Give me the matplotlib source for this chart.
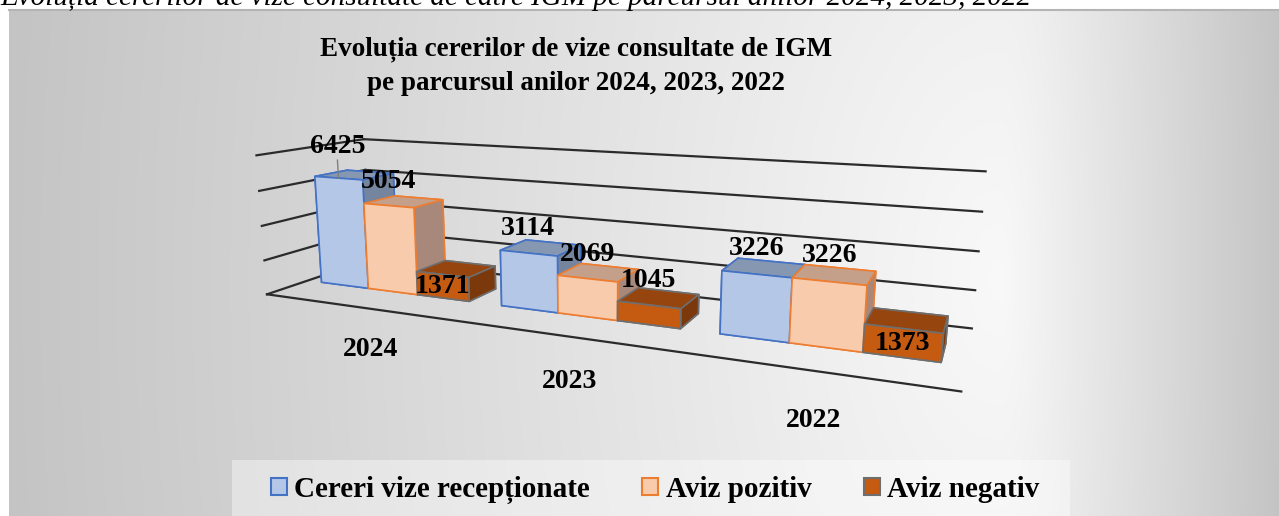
import numpy as np
import matplotlib.pyplot as plt
from matplotlib.patches import Patch, Rectangle

years = ["2024", "2023", "2022"]
series = ["Cereri vize recepționate", "Aviz pozitiv", "Aviz negativ"]
cereri = [6425, 3114, 3226]
pozitiv = [5054, 2069, 3226]
negativ = [1371, 1045, 1373]
grid_values = [0, 2000, 4000, 6000, 8000]

front_colors = ["#B4C7E7", "#F8CBAD", "#C55A11"]
top_colors = ["#8697B2", "#C4A08A", "#96450E"]
side_colors = ["#76859E", "#A8887A", "#7A380B"]
edge_colors = ["#4472C4", "#ED7D31", "#6E6E6E"]

plt.rcParams["font.family"] = ["Liberation Serif", "DejaVu Serif"]

W, H = 1279, 516
fig = plt.figure(figsize=(W / 100, H / 100), dpi=100)

# gray gradient behind the chart
yy, xx = np.mgrid[0:H, 0:W]
cx, cy = 1000, 280
gx = np.where(xx < cx, (xx - cx) / (cx - 9), (xx - cx) / (W - cx))
gy = (yy - cy) / 1800
t = np.clip(np.sqrt(gx ** 2 + gy ** 2), 0, 1)
g = 0.975 - 0.205 * t
bg = np.dstack([g, g, g])
bg[(xx < 9) | (yy < 9)] = 1.0
bax = fig.add_axes([0, 0, 1, 1])
bax.imshow(bg, extent=(0, W, H, 0), aspect="auto", interpolation="bilinear")
bax.plot([9, W], [9.5, 9.5], color="#b4b4b4", lw=1.5)
bax.add_patch(Rectangle((232, 460), 838, 60, facecolor="white", alpha=0.4,
                        edgecolor="none"))
bax.set_xlim(0, W)
bax.set_ylim(H, 0)
bax.axis("off")

fig.text(0.0, 1 - 5 / H,
         "Evoluția cererilor de vize consultate de către IGM pe parcursul anilor 2024, 2023, 2022",
         style="italic", fontsize=21, va="baseline", ha="left")

fig.text(576 / W, 1 - 66 / H,
         "Evoluția cererilor de vize consultate de IGM\npe parcursul anilor 2024, 2023, 2022",
         ha="center", va="center", fontsize=19.5, fontweight="bold", linespacing=1.45)

# 3d bars: a square axes as wide as the figure, centred on the plot area
side = W / H
cxf, cyf = 578 / W, 1 - 256 / H
ax = fig.add_axes([cxf - 0.5, cyf - side / 2, 1.0, side], projection="3d",
                  computed_zorder=False)
ax.set_facecolor((0, 0, 0, 0))
ax.set_proj_type("persp", focal_length=0.135)
ax.view_init(elev=12, azim=-66)

bar_w, gap = 1.0, 0.6
bar_d = 0.85
slot = 3 * bar_w + gap
depth = 2.9
y0 = 1.15
yf = 0.15
xmax = 3 * slot
values = [cereri, pozitiv, negativ]

zs_top, xpos = [], []
fcs, ecs = [], []
for i in range(len(years)):
    for s in range(len(series)):
        xpos.append(i * slot + gap / 2 + s * bar_w)
        zs_top.append(values[s][i])
        # face order: -z, +z, -y, +y, -x, +x
        fcs += [side_colors[s], top_colors[s], front_colors[s],
                side_colors[s], side_colors[s], side_colors[s]]
        ecs += [edge_colors[s]] * 6

n = len(xpos)
ax.bar3d(xpos, [y0] * n, [0] * n, [bar_w] * n, [bar_d] * n, zs_top,
         color=fcs, edgecolor=ecs, linewidth=1.2, shade=False, zorder=2)

for gv in grid_values:
    ax.plot([0, xmax], [depth, depth], [gv, gv], color="#2b2b2b", lw=1.6, zorder=1)
    ax.plot([0, 0], [yf, depth], [gv, gv], color="#2b2b2b", lw=1.6, zorder=1)
ax.plot([0, xmax], [yf, yf], [0, 0], color="#2b2b2b", lw=1.6, zorder=1)

# data labels
inside = {(0, 2), (2, 2)}
lift = {(0, 0): 450}
for i in range(len(years)):
    for s in range(len(series)):
        v = values[s][i]
        xc = i * slot + gap / 2 + s * bar_w + bar_w / 2
        if (i, s) in inside:
            ax.text(xc, y0, v / 2, str(v), ha="center", va="center",
                    fontsize=20, fontweight="bold", zorder=5)
        else:
            dz = lift.get((i, s), 0)
            ax.text(xc, y0, v + 650 + dz, str(v), ha="center",
                    va="bottom", fontsize=20, fontweight="bold", zorder=5)
            if dz:
                ax.plot([xc, xc], [y0, y0], [v, v + dz + 600],
                        color="#7f7f7f", lw=1, zorder=4)

for i, yr in enumerate(years):
    ax.text(i * slot + slot / 2, 0.5, -2850, yr, ha="center", va="center",
            fontsize=20, fontweight="bold", zorder=5)

ax.set_xlim(0, xmax)
ax.set_ylim(0, depth)
ax.set_zlim(0, 8000)
ax.set_xticks([])
ax.set_yticks([])
ax.set_zticks([])
ax.set_box_aspect((xmax, depth, 2.32), zoom=1.8 * 402 / W)
ax.set_axis_off()
for a in (ax, bax):
    for ttl in (a.title, a._left_title, a._right_title):
        ttl.set_visible(False)

handles = [Patch(facecolor=front_colors[s], edgecolor=edge_colors[s], lw=1.5)
           for s in range(len(series))]
leg = fig.legend(handles, series, loc="center", bbox_to_anchor=(655 / W, 1 - 490 / H),
                 ncol=3, frameon=False, handlelength=0.55, handleheight=0.55,
                 handletextpad=0.25, columnspacing=1.8,
                 prop={"weight": "bold", "size": 21})

fig.savefig("out.png", dpi=100)
